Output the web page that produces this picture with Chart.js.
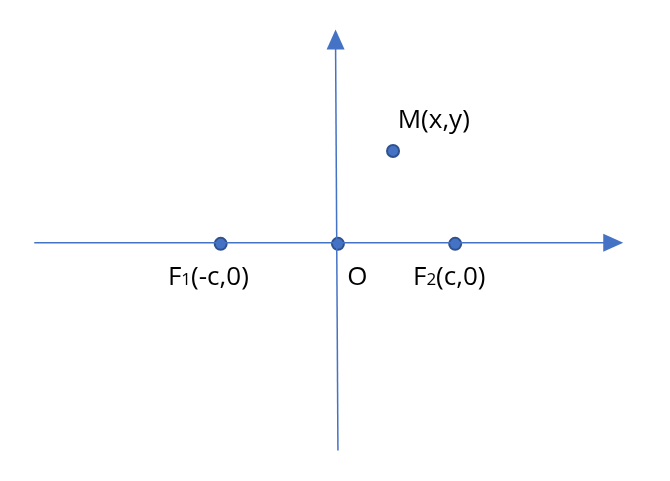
<!DOCTYPE html>
<html><head><meta charset="utf-8">
<script src="https://cdn.jsdelivr.net/npm/chart.js@4/dist/chart.umd.min.js"></script>
<style>html,body{margin:0;padding:0;background:#fff}#wrap{width:670px;height:481px}</style>
</head><body><div id="wrap"><canvas id="c"></canvas></div>
<script>
// points (c = 1)
var pointNames = ["F1", "O", "F2", "M"];
var pointX = [-1, 0, 1, 0.47];
var pointY = [0, 0, 0, 0.80];
// axis segments
var xAxisX = [-2.59, 2.28];
var xAxisY = [0.01, 0.01];
var yAxisX = [0.0, -0.02];
var yAxisY = [-1.78, 1.69];
// label text: [main, subscript, rest, anchorX, anchorY]
var labels = [
  ["F", "1", "(-c,0)", -1.45, -0.35],
  ["O", "", "", 0.08, -0.35],
  ["F", "2", "(c,0)", 0.64, -0.35],
  ["M(x,y)", "", "", 0.51, 1.0]
];

var blue = "#4472C4";

var overlay = {
  id: "overlay",
  afterDatasetsDraw: function (chart) {
    var ctx = chart.ctx, xs = chart.scales.x, ys = chart.scales.y;
    ctx.save();
    ctx.fillStyle = blue;
    function arrow(tx, ty, dx, dy) {
      var px = -dy, py = dx;
      ctx.beginPath();
      ctx.moveTo(tx, ty);
      ctx.lineTo(tx - dx * 20 + px * 9, ty - dy * 20 + py * 9);
      ctx.lineTo(tx - dx * 20 - px * 9, ty - dy * 20 - py * 9);
      ctx.closePath();
      ctx.fill();
    }
    arrow(xs.getPixelForValue(xAxisX[1]) + 18, ys.getPixelForValue(xAxisY[1]), 1, 0);
    arrow(xs.getPixelForValue(yAxisX[1]), ys.getPixelForValue(yAxisY[1]) - 18, 0, -1);
    ctx.fillStyle = "#000";
    ctx.textBaseline = "alphabetic";
    labels.forEach(function (l) {
      var x = xs.getPixelForValue(l[3]), y = ys.getPixelForValue(l[4]);
      ctx.font = "26px 'Open Sans', sans-serif";
      ctx.fillText(l[0], x, y);
      x += ctx.measureText(l[0]).width;
      if (l[1]) {
        ctx.font = "17px 'Open Sans', sans-serif";
        ctx.fillText(l[1], x, y);
        x += ctx.measureText(l[1]).width;
        ctx.font = "26px 'Open Sans', sans-serif";
      }
      ctx.fillText(l[2], x, y);
    });
    ctx.restore();
  }
};

new Chart(document.getElementById("c"), {
  type: "scatter",
  data: {
    datasets: [
      { data: xAxisX.map(function (v, i) { return { x: v, y: xAxisY[i] }; }),
        showLine: true, borderColor: blue, borderWidth: 1.5, pointRadius: 0 },
      { data: yAxisX.map(function (v, i) { return { x: v, y: yAxisY[i] }; }),
        showLine: true, borderColor: blue, borderWidth: 1.5, pointRadius: 0 },
      { data: pointX.map(function (v, i) { return { x: v, y: pointY[i] }; }),
        pointRadius: 6, pointBackgroundColor: blue, pointBorderColor: "#2F528F", pointBorderWidth: 2 }
    ]
  },
  options: {
    responsive: true, maintainAspectRatio: false, animation: false,
    layout: { padding: 0 },
    plugins: { legend: { display: false }, tooltip: { enabled: false } },
    scales: {
      x: { type: "linear", min: -2.814, max: 2.764, display: false },
      y: { type: "linear", min: -1.973, max: 2.031, display: false }
    }
  },
  plugins: [overlay]
});
</script></body></html>
